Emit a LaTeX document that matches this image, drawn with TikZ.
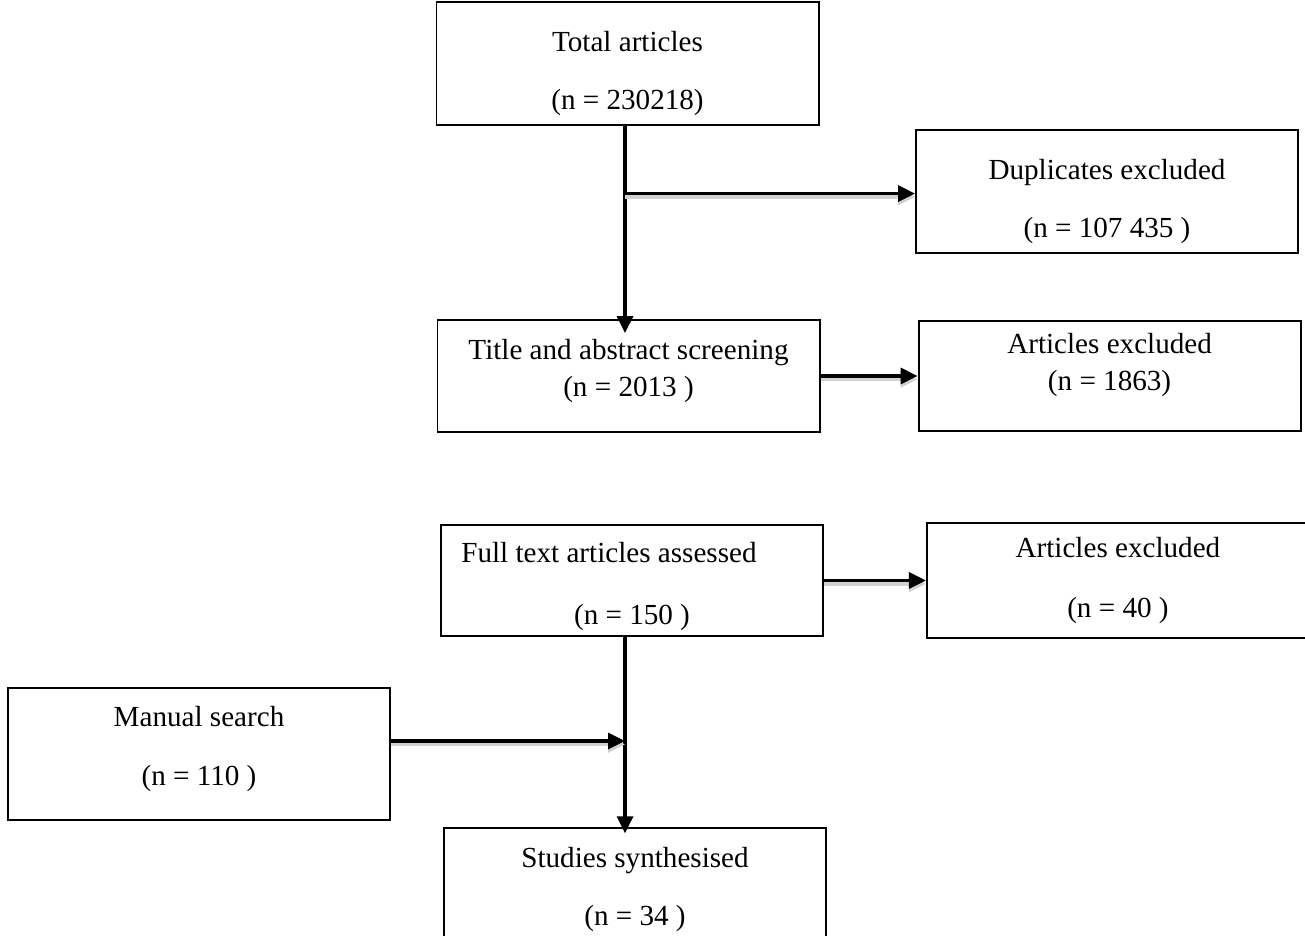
\documentclass[tikz,border=0pt]{standalone}
\usepackage{fontspec}
\setmainfont{Liberation Serif}
\usetikzlibrary{positioning,calc,arrows.meta}

\begin{document}
\begin{tikzpicture}[x=0.412pt, y=-0.412pt, node distance=41pt,
    box/.style={draw, line width=0.8pt, minimum width=157.4pt, inner sep=0pt},
    txt/.style={align=center, inner sep=0pt, font=\fontsize{12}{14}\selectfont},
    flow/.style={line width=1.35pt, -{Triangle[length=7pt,width=6.6pt]}},
    shade/.style={preaction={draw=black!18, line width=1.35pt,
        transform canvas={yshift=-1.4pt}}}]
    \useasboundingbox (0,0) rectangle (1305,936);
    \clip (0,0) rectangle (1305,936);

    \node[box, minimum height=50.7pt] (total) at (627.5,63.5) {};
    \node[box, minimum height=50.7pt] (dup) at (1107,191.5) {};
    \node[box, minimum height=46.1pt] (screen) at (628.5,376) {};
    \node[box, minimum height=45.3pt] (excl1) [right=40pt of screen] {};
    \node[box, minimum height=45.7pt] (full) at (632,580.5) {};
    \node[box, minimum height=47pt] (excl2) [right=42pt of full] {};
    \node[box, minimum height=54.4pt] (manual) at (199,754) {};
    \node[box, minimum height=48pt] (synth) at (635,886.5) {};

    % texts
    \node[txt] (total-t) at ($(total)+(0,10)$) {Total articles\\[10pt](n = 230218)};
    \node[txt] (dup-t) at ($(dup)+(0,10)$) {Duplicates excluded\\[10pt](n = 107 435 )};
    \node[txt] (screen-t) at ($(screen)+(0,-5)$) {Title and abstract screening\\[1pt](n = 2013 )};
    \node[txt] (excl1-t) at ($(excl1)+(0,-11)$) {Articles excluded\\[1pt](n = 1863)};
    \node[txt] (full-t) at ($(full)+(0,6)$) {Full text articles assessed\hspace*{19pt}\\[11.5pt](n = 150 )};
    \node[txt] (excl2-t) at (excl2) {Articles excluded\\[11pt](n = 40 )};
    \node[txt] (manual-t) at ($(manual)+(0,-5)$) {Manual search\\[10pt](n = 110 )};
    \node[txt] (synth-t) at ($(synth)+(0,3)$) {Studies synthesised\\[10pt](n = 34 )};

    % main flow, the spine runs a little left of the box centres
    \coordinate (spine) at (625,0);
    \coordinate (b1) at ($(spine |- total.south)!0.35!(spine |- screen.north)$);
    \draw[flow] (spine |- total.south) -- ($(spine |- screen.north)+(0,14)$);
    \draw[flow,shade] (b1) -- (b1 -| dup.west);
    \draw[flow,shade] (screen.east) -- (excl1.west);
    \draw[flow,shade] (full.east) -- (excl2.west);
    \draw[flow] (spine |- full.south) -- ($(spine |- synth.north)+(0,6)$);

    \coordinate (m1) at ($(manual.east)+(0,-13)$);
    \draw[flow,shade] (m1) -- (m1 -| spine);
\end{tikzpicture}
\end{document}
